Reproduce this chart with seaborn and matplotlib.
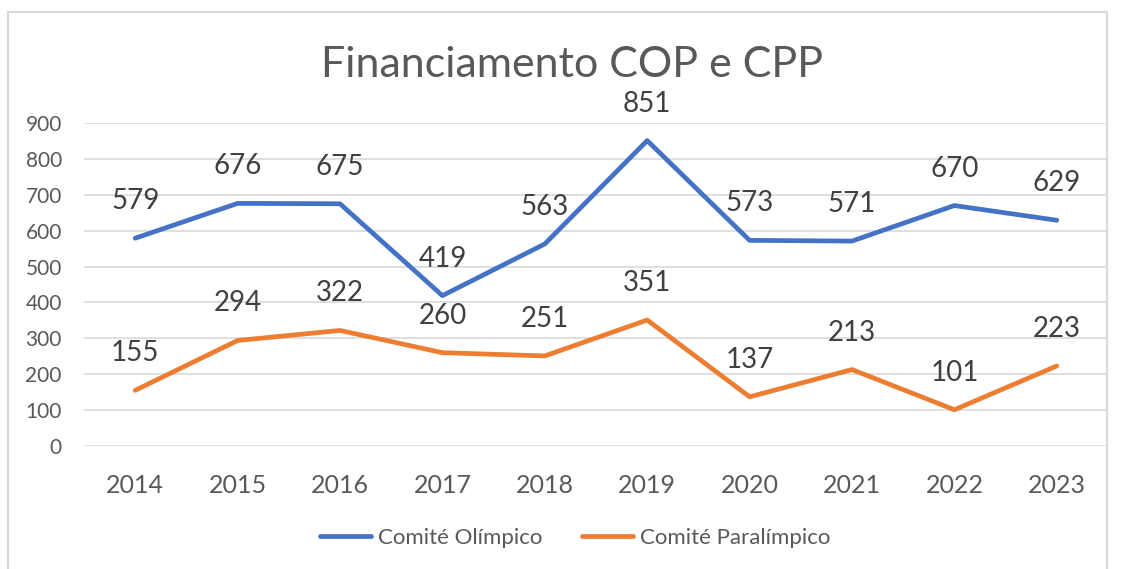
import pandas as pd
import matplotlib.pyplot as plt
import seaborn as sns
from matplotlib.patches import Rectangle

# Datos
anos = ['2014', '2015', '2016', '2017', '2018', '2019', '2020', '2021', '2022', '2023']
olimpico = [579, 676, 675, 419, 563, 851, 573, 571, 670, 629]
paralimpico = [155, 294, 322, 260, 251, 351, 137, 213, 101, 223]
series = ['Comité Olímpico', 'Comité Paralímpico']
cores = {'Comité Olímpico': '#4472C4', 'Comité Paralímpico': '#ED7D31'}

df = pd.DataFrame({
    'ano': anos * 2,
    'valor': olimpico + paralimpico,
    'serie': [series[0]] * len(anos) + [series[1]] * len(anos),
})

sns.set_style('white')
plt.rcParams['font.family'] = ['Lato', 'DejaVu Sans']

fig = plt.figure(figsize=(11.23, 5.69), dpi=100)
ax = fig.add_axes([84 / 1123, 1 - 446 / 569, 1024 / 1123, 323 / 569])

sns.lineplot(data=df, x='ano', y='valor', hue='serie', palette=cores,
             linewidth=3.4, sort=False, ax=ax, solid_capstyle='round')

# Etiquetas de datos
for s, vals in zip(series, [olimpico, paralimpico]):
    for i, v in enumerate(vals):
        ax.annotate(str(v), (i, v), xytext=(0, 37), textcoords='offset pixels',
                    ha='center', va='center', fontsize=20, color='#404040')

ax.set_xlim(-0.5, len(anos) - 0.5)
ax.set_ylim(0, 900)
ax.set_yticks(range(0, 1000, 100))
ax.grid(axis='y', color='#D9D9D9', linewidth=1.2)
ax.set_axisbelow(True)
for sp in ax.spines.values():
    sp.set_visible(False)
ax.tick_params(axis='y', labelsize=15, colors='#595959', length=0, pad=16)
ax.tick_params(axis='x', labelsize=18, colors='#595959', length=0, pad=20)
ax.set_xlabel('')
ax.set_ylabel('')

# Título
fig.text(572 / 1123, 1 - 65 / 569, 'Financiamento COP e CPP', ha='center', va='center',
         fontsize=31, color='#595959')

# Leyenda
ax.legend(loc='center', bbox_to_anchor=(575 / 1123, 1 - 538 / 569), bbox_transform=fig.transFigure,
          ncol=2, frameon=False, fontsize=16, handlelength=2.3, handletextpad=0.3,
          columnspacing=1.8, labelcolor='#595959')

# Borde del gráfico
fig.patches.append(Rectangle((8 / 1123, -0.05), 1099 / 1123, 1.05 - 12 / 569,
                             transform=fig.transFigure, fill=False,
                             edgecolor='#D9D9D9', linewidth=1.5))

fig.savefig('out.png', dpi=100)
